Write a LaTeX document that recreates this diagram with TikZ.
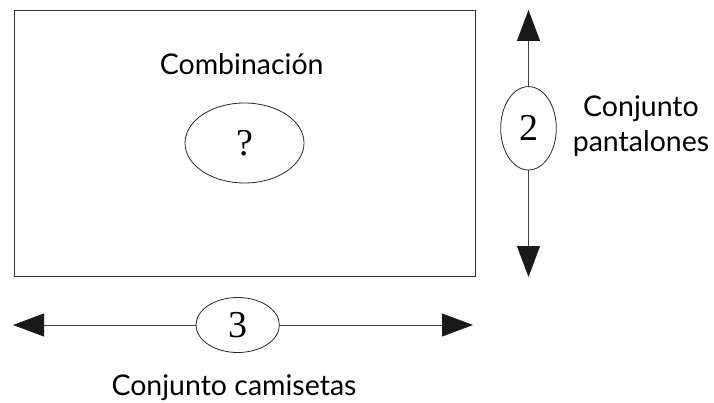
\documentclass[tikz,border=0pt]{standalone}
\usepackage{fontspec}
\setmainfont{Lato}
\newfontfamily\numfont{Liberation Serif}
\usetikzlibrary{arrows.meta,shapes.geometric,positioning}

\tikzset{
  conjunto/.style={draw=black!85, line width=0.8pt, ellipse, inner sep=0pt,
    font=\numfont\fontsize{38}{38}\selectfont},
  flecha/.style={draw=black!75, line width=0.8pt,
    -{Triangle[length=31pt,width=23pt,color=black!90]}},
  etiqueta/.style={font=\fontsize{28.5}{35}\selectfont, align=center, inner sep=0pt},
}

\begin{document}
\begin{tikzpicture}[x=1pt,y=-1pt]
  \useasboundingbox (0,0) rectangle (714,403);

  % --- caja de combinaciones ---
  \node[draw=black!80, line width=1pt, minimum width=461pt, minimum height=265.5pt,
        inner sep=0pt] (caja) at (244.6,143.3) {};
  \node[etiqueta, anchor=base] (combinacion) at (241.7,75) {Combinación};
  \node[conjunto, minimum width=119pt, minimum height=80pt] (pregunta) at (244.5,143) {?};

  % --- conjunto pantalones (vertical) ---
  \node[conjunto, minimum width=55.6pt, minimum height=83.4pt] (dos) at (528.5,128.3) {2};
  \coordinate (arriba) at (528.5,10);
  \coordinate (abajo) at (528.5,277);
  \draw[flecha] (dos) -- (arriba);
  \draw[flecha] (dos) -- (abajo);
  \node[etiqueta, anchor=base] (pantalones) at (641,151.7) {Conjunto\\pantalones};

  % --- conjunto camisetas (horizontal) ---
  \node[conjunto, minimum width=83.4pt, minimum height=55pt] (tres) at (237.7,325) {3};
  \coordinate (izq) at (13,325);
  \coordinate (der) at (473,325);
  \draw[flecha] (tres) -- (izq);
  \draw[flecha] (tres) -- (der);
  \node[etiqueta, anchor=base] (camisetas) at (234,395) {Conjunto camisetas};
\end{tikzpicture}
\end{document}
